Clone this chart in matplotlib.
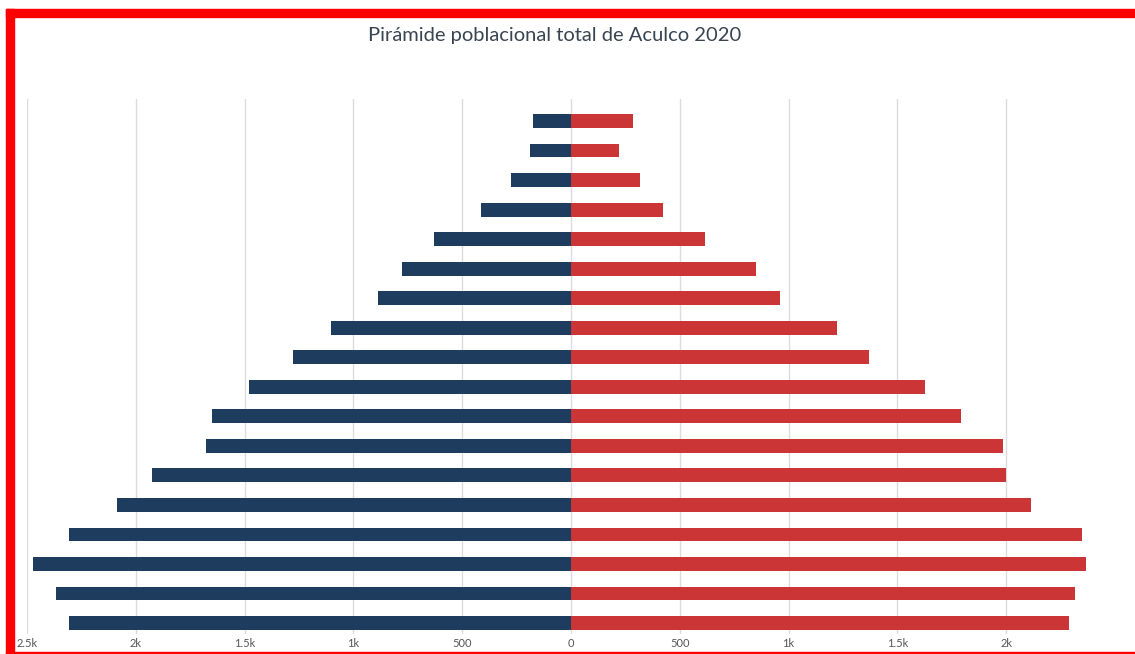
import matplotlib
matplotlib.use("Agg")
import matplotlib.pyplot as plt
from matplotlib.patches import Rectangle
from matplotlib.ticker import FuncFormatter, FixedLocator

# Age groups, youngest first (bottom) to oldest (top)
age_groups = ["0-4", "5-9", "10-14", "15-19", "20-24", "25-29", "30-34", "35-39",
              "40-44", "45-49", "50-54", "55-59", "60-64", "65-69", "70-74",
              "75-79", "80-84", "85+"]
hombres = [2307, 2368, 2472, 2309, 2088, 1927, 1676, 1651, 1480, 1277, 1102,
           887, 777, 629, 414, 277, 188, 176]
mujeres = [2288, 2315, 2366, 2347, 2116, 1999, 1988, 1794, 1625, 1372, 1224,
           963, 849, 616, 423, 317, 220, 286]
tick_values = [-2500, -2000, -1500, -1000, -500, 0, 500, 1000, 1500, 2000]
title = "Pirámide poblacional total de Aculco 2020"

W, H = 1135, 654
fig = plt.figure(figsize=(W / 100, H / 100), dpi=100)
fig.patch.set_facecolor("white")

ax = fig.add_axes([27 / W, 1 - 634 / H, (1104 - 27) / W, (634 - 99) / H])
ax.set_facecolor("white")

y = list(range(len(age_groups)))
ax.barh(y, [-v for v in hombres], height=0.47, color="#1d3c5e", zorder=3)
ax.barh(y, mujeres, height=0.47, color="#cb3535", zorder=3)

ax.set_xlim(-2500, 2450)
ax.set_ylim(-0.37, 17.745)

def fmt(v, pos):
    a = abs(v)
    if a >= 1000:
        s = f"{a/1000:g}k"
    else:
        s = f"{a:g}"
    return s

ax.xaxis.set_major_locator(FixedLocator(tick_values))
ax.xaxis.set_major_formatter(FuncFormatter(fmt))
ax.set_yticks([])
ax.tick_params(axis="x", length=0, pad=3, labelsize=8, labelcolor="#555555")
for lbl in ax.get_xticklabels():
    lbl.set_family(["Lato", "DejaVu Sans"])
ax.grid(axis="x", color="#dcdcdc", linewidth=1, zorder=0)
for s in ax.spines.values():
    s.set_visible(False)

fig.text(555 / W, 1 - 35 / H, title, ha="center", va="center",
         fontsize=14.5, color="#3a4552", family=["Lato", "DejaVu Sans"])

# red frame of the screenshot
red = "#ff0000"
fig.patches.append(Rectangle((6 / W, 0), 8 / W, 1 - 9 / H, transform=fig.transFigure,
                             color=red, zorder=10))
fig.patches.append(Rectangle((6 / W, 1 - 17 / H), 1, 8 / H, transform=fig.transFigure,
                             color=red, zorder=10))
fig.patches.append(Rectangle((6 / W, 1 - 654 / H), 1, 2.5 / H, transform=fig.transFigure,
                             color=red, zorder=10))

fig.savefig("out.png", dpi=100, facecolor="white")
